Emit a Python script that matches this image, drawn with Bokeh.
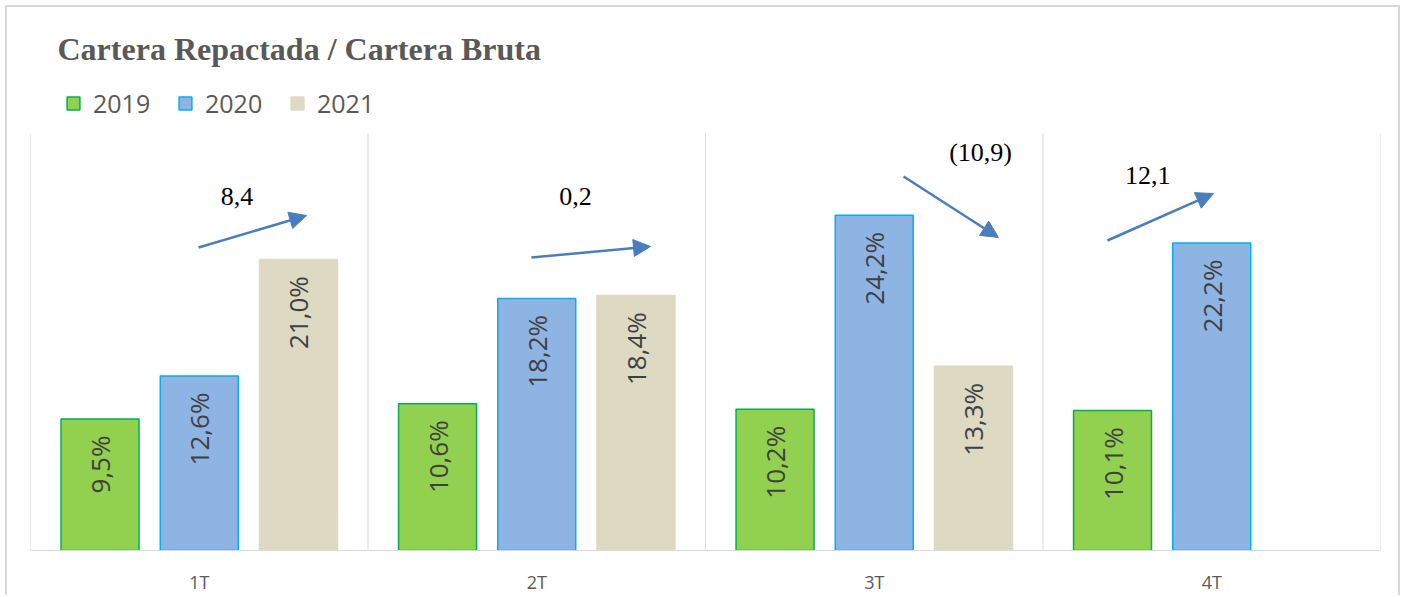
import math
from bokeh.plotting import figure
from bokeh.models import (ColumnDataSource, Range1d, FixedTicker, Label, Legend,
                          LegendItem, Arrow, NormalHead)
from bokeh.core.properties import value
from bokeh.embed import file_html
from bokeh.resources import INLINE

# ---------------- data ----------------
quarters = ["1T", "2T", "3T", "4T"]
years = ["2019", "2020", "2021"]
v2019 = [9.5, 10.6, 10.2, 10.1]
v2020 = [12.6, 18.2, 24.2, 22.2]
v2021 = [21.0, 18.4, 13.3]          # no 4T 2021 value
change_text = ["8,4", "0,2", "(10,9)", "12,1"]

# arrow annotations (category units / percent units)
arrow_x0 = [0.498, 1.484, 2.587, 3.191]
arrow_y0 = [21.87, 21.15, 27.00, 22.38]
arrow_x1 = [0.818, 1.837, 2.868, 3.505]
arrow_y1 = [24.18, 21.95, 22.60, 25.77]
change_x = [0.612, 1.615, 2.815, 3.310]
change_y = [25.55, 25.55, 28.7, 27.05]

# ---------------- style ----------------
fills = ["#92d050", "#8eb4e3", "#ddd9c3"]
lines = ["#00b050", "#00b0f0", "#ddd9c3"]
bar_w = 0.231
offsets = [-0.294, 0.0, 0.294]
grey = "#595959"
y_top_area = 30.1   # top of the plotting area (percent units)

def fmt(v):
    return ("%.1f" % v).replace(".", ",") + "%"

p = figure(width=1395, height=590, x_range=Range1d(0, 4), y_range=Range1d(0, 39.2),
           output_backend="svg", toolbar_location=None,
           min_border_left=23, min_border_right=22, min_border_top=0, min_border_bottom=47)
p.outline_line_color = None
p.background_fill_color = "white"
p.border_fill_color = "white"
p.styles = {"margin-left": "5px", "margin-top": "5px",
            "border-top": "2px solid #d9d9d9", "border-left": "2px solid #d9d9d9",
            "border-right": "2px solid #d9d9d9"}

p.yaxis.visible = False
p.ygrid.visible = False
p.xgrid.visible = False

# category separators
sep_x = list(range(len(quarters) + 1))
p.segment(x0=sep_x, x1=sep_x, y0=[0] * len(sep_x), y1=[y_top_area] * len(sep_x),
          line_color="#d9d9d9", line_width=1)

xa = p.xaxis[0]
xa.ticker = FixedTicker(ticks=[i + 0.5 for i in range(len(quarters))])
xa.major_label_overrides = {i + 0.5: q for i, q in enumerate(quarters)}
xa.major_tick_line_color = None
xa.minor_tick_line_color = None
xa.major_tick_out = 0
xa.major_tick_in = 0
xa.minor_tick_out = 0
xa.axis_line_color = "#d9d9d9"
xa.major_label_text_font = "Open Sans"
xa.major_label_text_font_size = "18px"
xa.major_label_text_color = grey
xa.major_label_standoff = 19

renderers = []
for k, vals in enumerate([v2019, v2020, v2021]):
    xs = [i + 0.5 + offsets[k] for i in range(len(vals))]
    src = ColumnDataSource(dict(x=xs, top=vals,
                                lab=[fmt(v) for v in vals],
                                ly=[v - 1.2 for v in vals]))
    r = p.vbar(x="x", top="top", width=bar_w, source=src,
               fill_color=fills[k], line_color=lines[k], line_width=1.5)
    renderers.append(r)
    p.text(x="x", y="ly", text="lab", source=src, angle=math.pi / 2,
           text_align="right", text_baseline="middle",
           text_font=value("Open Sans"), text_font_size="26px", text_color="#404040")

for i in range(len(change_text)):
    p.add_layout(Arrow(end=NormalHead(size=17, fill_color="#4a7ebb", line_color="#4a7ebb"),
                       x_start=arrow_x0[i], y_start=arrow_y0[i],
                       x_end=arrow_x1[i], y_end=arrow_y1[i],
                       line_color="#4a7ebb", line_width=2.5))

p.text(x=change_x, y=change_y, text=change_text, text_align="center",
       text_baseline="alphabetic", text_font=value("Liberation Serif"),
       text_font_size="26px", text_color="black")

title = Label(x=27, y=502, x_units="screen", y_units="screen",
              text="Cartera Repactada / Cartera Bruta",
              text_font="Liberation Serif", text_font_size="32px",
              text_font_style="bold", text_color=grey, text_baseline="alphabetic")
p.add_layout(title)

legend = Legend(items=[LegendItem(label=y, renderers=[r]) for y, r in zip(years, renderers)],
                location=(35, 430), orientation="horizontal",
                glyph_width=16, glyph_height=16, label_height=16, label_width=84,
                label_standoff=12, spacing=0, padding=0, margin=0,
                border_line_color=None, background_fill_alpha=0,
                label_text_font="Open Sans", label_text_font_size="25px",
                label_text_color=grey)
p.add_layout(legend)

open("out.html", "w").write(file_html(p, INLINE))
